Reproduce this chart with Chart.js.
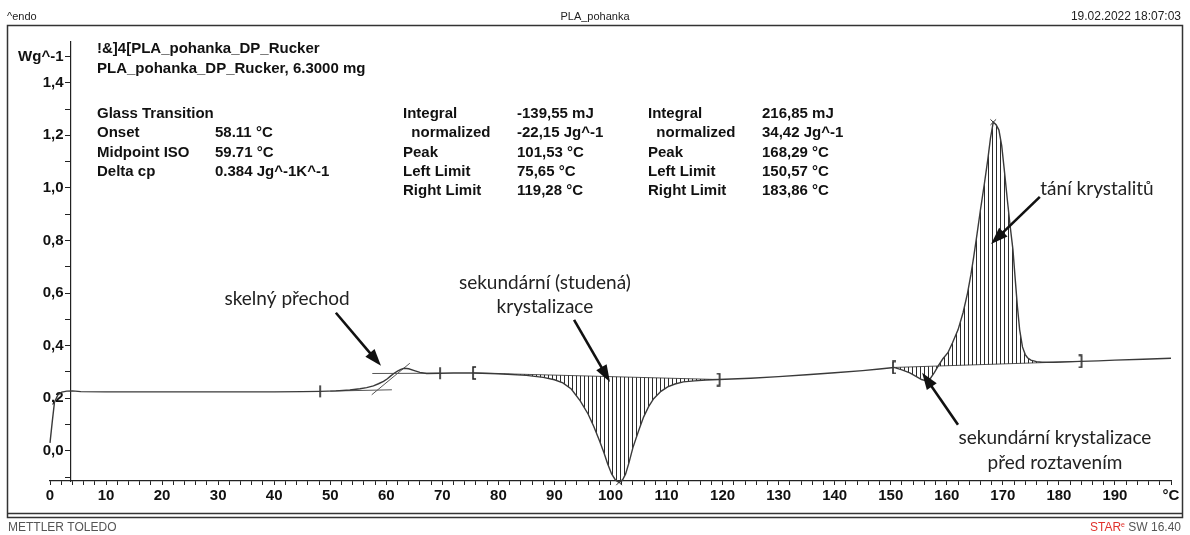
<!DOCTYPE html>
<html>
<head>
<meta charset="utf-8">
<script src="https://cdn.jsdelivr.net/npm/chart.js@4/dist/chart.umd.min.js"></script>
<style>
  html, body { margin: 0; padding: 0; background: #fff; }
</style>
</head>
<body>
<canvas id="dsc" width="1190" height="535"></canvas>
<script>
// DSC heating scan, PLA_pohanka (heat flow in W/g vs. temperature in °C)
const temps = [0, 0.4, 0.8, 1.4, 2.1, 3, 4, 5.5, 10, 20, 30, 40, 45, 48.2, 51, 53.5, 55.3, 56.5, 57.7, 58.6,
  59.5, 60.2, 60.8, 61.4, 62, 62.6, 63.2, 64, 65, 66, 67.2, 69.6, 72, 75.65, 80, 85, 88, 90, 91.5, 93,
  94.6, 96, 97, 98, 98.8, 99.5, 100.2, 100.9, 101.53, 102.1, 102.7, 103.3, 104, 105, 105.9, 106.8, 107.7, 109, 110.2, 111.5,
  113, 115, 117, 119.28, 125, 130, 135, 140, 145, 148, 150.57, 152, 153.4, 154.5, 155.5, 156.3, 157.1, 157.8, 158.5, 159.3,
  160.2, 161, 162, 162.9, 163.7, 164.3, 164.8, 165.4, 166, 166.7, 167.3, 167.8, 168.29, 168.8, 169.3, 169.8, 170.3, 170.8, 171.3, 171.8,
  172.2, 172.6, 173, 173.5, 174, 174.4, 175, 176, 177, 179, 181, 183.86, 187, 190, 195, 200];
const heatFlow = [0.03, 0.11, 0.185, 0.212, 0.223, 0.227, 0.228, 0.225, 0.224, 0.224, 0.224, 0.224, 0.225, 0.226, 0.228, 0.231, 0.236, 0.24, 0.247, 0.255,
  0.264, 0.274, 0.285, 0.295, 0.303, 0.31, 0.314, 0.312, 0.305, 0.298, 0.294, 0.295, 0.296, 0.296, 0.293, 0.287, 0.279, 0.27, 0.258, 0.235,
  0.19, 0.14, 0.093, 0.04, -0.006, -0.05, -0.088, -0.112, -0.12, -0.113, -0.088, -0.045, 0.012, 0.075, 0.128, 0.168, 0.198, 0.226, 0.243, 0.254,
  0.262, 0.266, 0.269, 0.271, 0.276, 0.282, 0.289, 0.297, 0.305, 0.311, 0.317, 0.308, 0.296, 0.283, 0.271, 0.266, 0.276, 0.298, 0.324, 0.35,
  0.373, 0.41, 0.46, 0.525, 0.6, 0.67, 0.738, 0.825, 0.916, 1.015, 1.106, 1.19, 1.25, 1.24, 1.22, 1.16, 1.06, 0.955, 0.855, 0.765,
  0.655, 0.548, 0.46, 0.395, 0.366, 0.354, 0.345, 0.339, 0.337, 0.337, 0.338, 0.34, 0.342, 0.345, 0.348, 0.352];

// evaluation limits and peak temperatures (°C)
const limitTemps = [48.2, 69.6, 75.65, 119.28, 150.57, 183.86];
const limitShapes = ['tick', 'tick', 'open', 'close', 'open', 'close'];
const peakTemps = [101.53, 168.29];
const coldCryst = [75.65, 119.28];
const melting = [150.57, 183.86];

// glass transition construction lines [T, W/g]
const gtLower = [[50, 0.227], [61, 0.232]];
const gtTangent = [[57.4, 0.213], [64.2, 0.333]];
const gtUpper = [[57.5, 0.294], [69.6, 0.295]];

const xUnit = '°C';
const yUnit = 'Wg^-1';

// evaluation tables
const sampleLines = ['!&]4[PLA_pohanka_DP_Rucker', 'PLA_pohanka_DP_Rucker, 6.3000 mg'];
const glassLabels = ['Glass Transition', 'Onset', 'Midpoint ISO', 'Delta cp'];
const glassValues = ['', '58.11 °C', '59.71 °C', '0.384 Jg^-1K^-1'];
const intLabels = ['Integral', '  normalized', 'Peak', 'Left Limit', 'Right Limit'];
const coldValues = ['-139,55 mJ', '-22,15 Jg^-1', '101,53 °C', '75,65 °C', '119,28 °C'];
const meltValues = ['216,85 mJ', '34,42 Jg^-1', '168,29 °C', '150,57 °C', '183,86 °C'];

// annotations: text centre and arrow tail/head, in data units
const notes = [
  {lines: ['skelný přechod'], at: [42.3, 0.578], arrow: [[51.0, 0.525], [59.05, 0.323]]},
  {lines: ['sekundární (studená)', 'krystalizace'], at: [88.3, 0.639], arrow: [[93.5, 0.498], [99.9, 0.262]]},
  {lines: ['tání krystalitů'], at: [186.8, 0.996], arrow: [[176.6, 0.966], [167.9, 0.787]]},
  {lines: ['sekundární krystalizace', 'před roztavením'], at: [179.3, 0.049], arrow: [[162.0, 0.099], [155.6, 0.297]]}
];

const valueAt = t => heatFlow[temps.indexOf(t)];
const range = (a, b) => temps.map((t, i) => ({x: t, y: heatFlow[i]})).filter(p => p.x >= a && p.x <= b);
const pairs = arr => arr.map(p => ({x: p[0], y: p[1]}));

const canvas = document.getElementById('dsc');
const ctx = canvas.getContext('2d');

// vertical hatching for integrated areas
const tile = document.createElement('canvas');
tile.width = 4; tile.height = 4;
const tg = tile.getContext('2d');
tg.fillStyle = '#2b2b2b';
tg.fillRect(0, 0, 1, 4);
const hatch = ctx.createPattern(tile, 'repeat');

function bracket(kind) {
  const c = document.createElement('canvas');
  c.width = 8; c.height = 14;
  const g = c.getContext('2d');
  g.strokeStyle = '#222';
  g.lineWidth = 1.6;
  g.beginPath();
  if (kind === 'tick') {
    g.moveTo(4, 1); g.lineTo(4, 13);
  } else {
    const a = kind === 'open' ? 6 : 2, b = kind === 'open' ? 3 : 5;
    g.moveTo(a, 1); g.lineTo(b, 1); g.lineTo(b, 13); g.lineTo(a, 13);
  }
  g.stroke();
  return c;
}

const lineDefaults = {pointRadius: 0, fill: false, tension: 0};

const datasets = [
  {...lineDefaults, data: temps.map((t, i) => ({x: t, y: heatFlow[i]})), borderColor: '#3a3a3a', borderWidth: 1.4, clip: false},
  {...lineDefaults, data: range(...coldCryst), borderWidth: 0, fill: 2, backgroundColor: hatch},
  {...lineDefaults, data: coldCryst.map(t => ({x: t, y: valueAt(t)})), borderColor: '#555', borderWidth: 1},
  {...lineDefaults, data: range(...melting), borderWidth: 0, fill: 4, backgroundColor: hatch},
  {...lineDefaults, data: melting.map(t => ({x: t, y: valueAt(t)})), borderColor: '#555', borderWidth: 1},
  {...lineDefaults, data: pairs(gtLower), borderColor: '#555', borderWidth: 1},
  {...lineDefaults, data: pairs(gtTangent), borderColor: '#555', borderWidth: 1},
  {...lineDefaults, data: pairs(gtUpper), borderColor: '#555', borderWidth: 1},
  {type: 'scatter', data: limitTemps.map(t => ({x: t, y: valueAt(t)})), pointStyle: limitShapes.map(bracket), pointRadius: 5},
  {type: 'scatter', data: peakTemps.map(t => ({x: t, y: valueAt(t)})), pointStyle: 'crossRot', pointRadius: 4,
    borderColor: '#333', borderWidth: 1, clip: false}
];

function arrow(g, x1, y1, x2, y2) {
  const a = Math.atan2(y2 - y1, x2 - x1), L = 17, W = 6;
  const c = Math.cos(a), s = Math.sin(a);
  g.beginPath();
  g.moveTo(x1, y1);
  g.lineTo(x2 - L * 0.7 * c, y2 - L * 0.7 * s);
  g.stroke();
  g.beginPath();
  g.moveTo(x2, y2);
  g.lineTo(x2 - L * c + W * s, y2 - L * s - W * c);
  g.lineTo(x2 - L * c - W * s, y2 - L * s + W * c);
  g.closePath();
  g.fill();
}

const sheet = {
  id: 'sheet',
  afterDraw(chart) {
    const g = chart.ctx, xs = chart.scales.x, ys = chart.scales.y;
    g.save();

    // frame
    g.strokeStyle = '#333';
    g.lineWidth = 1.5;
    g.strokeRect(7.5, 25.5, 1175, 492);
    g.beginPath();
    g.moveTo(7.5, 513.5); g.lineTo(1182.5, 513.5);
    g.stroke();

    // header and footer
    g.fillStyle = '#222';
    g.textBaseline = 'middle';
    g.font = '11px "Liberation Sans", Arial, sans-serif';
    g.textAlign = 'left';
    g.fillText('^endo', 7, 17);
    g.textAlign = 'center';
    g.fillText('PLA_pohanka', 595, 17);
    g.textAlign = 'right';
    g.font = '12px "Liberation Sans", Arial, sans-serif';
    g.fillText('19.02.2022 18:07:03', 1181, 17);
    g.fillStyle = '#555';
    g.textAlign = 'left';
    g.fillText('METTLER TOLEDO', 8, 528);
    g.textAlign = 'right';
    g.fillText('SW 16.40', 1181, 528);
    const sw = g.measureText(' SW 16.40').width;
    g.font = '7px "Liberation Sans", Arial, sans-serif';
    g.fillStyle = '#e0312b';
    g.fillText('e', 1181 - sw, 525);
    const ew = g.measureText('e').width;
    g.font = '12px "Liberation Sans", Arial, sans-serif';
    g.fillText('STAR', 1181 - sw - ew, 528);

    // evaluation results
    g.fillStyle = '#111';
    g.textAlign = 'left';
    g.font = 'bold 15px "Liberation Sans", Arial, sans-serif';
    sampleLines.forEach((t, i) => g.fillText(t, 97, 49 + i * 19.5));
    const row = i => 114 + i * 19.2;
    glassLabels.forEach((t, i) => g.fillText(t, 97, row(i)));
    glassValues.forEach((t, i) => g.fillText(t, 215, row(i)));
    intLabels.forEach((t, i) => g.fillText(t, 403, row(i)));
    coldValues.forEach((t, i) => g.fillText(t, 517, row(i)));
    intLabels.forEach((t, i) => g.fillText(t, 648, row(i)));
    meltValues.forEach((t, i) => g.fillText(t, 762, row(i)));

    // annotations with arrows
    g.fillStyle = '#222';
    g.strokeStyle = '#111';
    g.lineWidth = 2.6;
    g.textAlign = 'center';
    g.font = '19px Lato, "Open Sans", sans-serif';
    notes.forEach(n => {
      const cx = xs.getPixelForValue(n.at[0]), cy = ys.getPixelForValue(n.at[1]);
      n.lines.forEach((t, i) => g.fillText(t, cx, cy + i * 24.5));
      const [p, q] = n.arrow;
      g.fillStyle = '#111';
      arrow(g, xs.getPixelForValue(p[0]), ys.getPixelForValue(p[1]), xs.getPixelForValue(q[0]), ys.getPixelForValue(q[1]));
      g.fillStyle = '#222';
    });
    g.restore();
  }
};

const tickFont = {family: '"Liberation Sans", Arial, sans-serif', size: 15, weight: 'bold'};
// the y axis sits inside the plot, so its labels carry a trailing en space to clear the tick marks
const gap = '\u2002';

new Chart(ctx, {
  type: 'line',
  data: {datasets},
  options: {
    responsive: false,
    devicePixelRatio: 1,
    animation: false,
    layout: {padding: {left: 50, right: 19, top: 42, bottom: 30}},
    plugins: {legend: {display: false}, tooltip: {enabled: false}},
    scales: {
      x: {
        type: 'linear',
        position: 'bottom',
        min: 0,
        max: 200,
        afterFit: s => { s.height = 24; },
        grid: {drawOnChartArea: false, tickLength: 4, color: '#222'},
        border: {color: '#222', width: 1.2},
        ticks: {
          stepSize: 2, autoSkip: false, maxRotation: 0, includeBounds: false, padding: 2,
          color: '#111', font: tickFont,
          callback: v => v === 200 ? xUnit : (v % 10 === 0 ? String(v) : '')
        }
      },
      y: {
        type: 'linear',
        position: {x: 3.75},
        min: -0.115,
        max: 1.555,
        grid: {drawOnChartArea: false, tickLength: 5, color: '#222'},
        border: {color: '#222', width: 1.2},
        ticks: {
          stepSize: 0.1, autoSkip: false, includeBounds: false, padding: 3,
          color: '#111', font: tickFont,
          callback: v => {
            const k = Math.round(v * 10);
            if (k === 15) return yUnit + gap;
            if (k % 2 !== 0) return '';
            return (k / 10).toFixed(1).replace('.', ',') + gap;
          }
        }
      }
    }
  },
  plugins: [sheet]
});
</script>
</body>
</html>
